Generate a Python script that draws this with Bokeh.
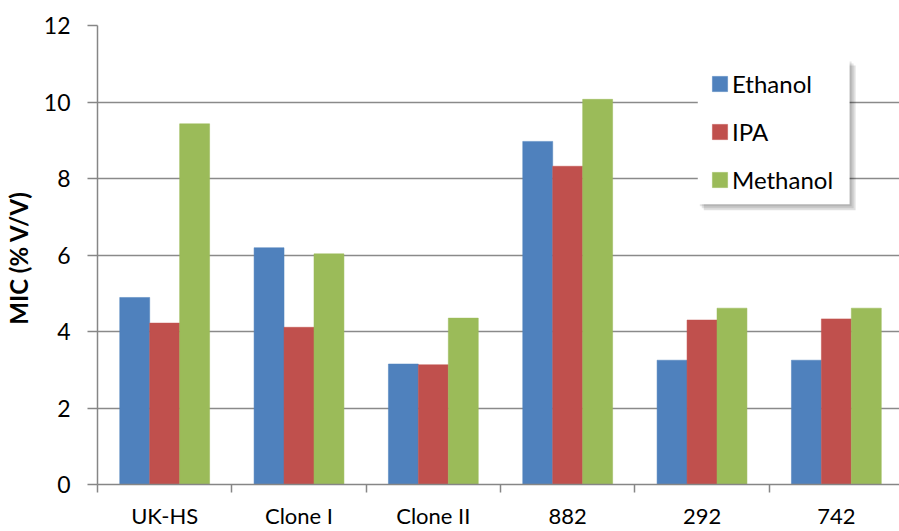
from bokeh.plotting import figure
from bokeh.models import (ColumnDataSource, FixedTicker, Range1d, Legend,
                          LegendItem, BoxAnnotation)
from bokeh.embed import file_html
from bokeh.resources import INLINE

# MIC values (% V/V) per strain and solvent
strains = ["UK-HS", "Clone I", "Clone II", "882", "292", "742"]
ethanol = [4.89, 6.19, 3.15, 8.97, 3.25, 3.25]
ipa = [4.22, 4.11, 3.13, 8.32, 4.30, 4.33]
methanol = [9.43, 6.03, 4.35, 10.07, 4.61, 4.61]
y_ticks = [0, 2, 4, 6, 8, 10, 12]

series = [("Ethanol", ethanol, "#4F81BD"),
          ("IPA", ipa, "#C0504D"),
          ("Methanol", methanol, "#9BBB59")]

FONT = "Lato"
AXIS_GREY = "#868686"

centers = [i + 0.5 for i in range(len(strains))]
bar_w = 0.223

p = figure(width=899, height=531, output_backend="svg", toolbar_location=None,
           x_range=Range1d(0, 5.97), y_range=Range1d(0, 12),
           min_border_left=96, min_border_right=0,
           min_border_top=25, min_border_bottom=46)
p.outline_line_color = None
p.background_fill_color = "white"
p.border_fill_color = "white"

# pixel helpers for decorations (frame spans x 96..899, y 25..484.6)
px_x = 134.5
px_y = 38.3
def dx(px):
    return (px - 96) / px_x
def dy(px):
    return (484.6 - px) / px_y

renderers = []
for k, (name, vals, color) in enumerate(series):
    off = (k - 1) * bar_w
    src = ColumnDataSource(dict(x=[c + off for c in centers], top=vals))
    r = p.vbar(x="x", top="top", bottom=0, width=bar_w, source=src,
               fill_color=color, line_color=color, line_width=0.5)
    renderers.append((name, r))

# x axis: labels at group centres, small tick marks between groups
xa = p.xaxis[0]
xa.ticker = FixedTicker(ticks=centers, minor_ticks=list(range(len(strains) + 1)))
xa.major_label_overrides = {c: s for c, s in zip(centers, strains)}
xa.major_tick_line_color = None
xa.major_tick_out = 0
xa.major_tick_in = 0
xa.minor_tick_out = 8
xa.minor_tick_in = 0
xa.minor_tick_line_color = AXIS_GREY
xa.minor_tick_line_width = 1.5
xa.axis_line_color = AXIS_GREY
xa.axis_line_width = 1.5
xa.major_label_standoff = 9
xa.major_label_text_font = FONT
xa.major_label_text_font_size = "22px"
xa.major_label_text_color = "black"

ya = p.yaxis[0]
ya.ticker = FixedTicker(ticks=y_ticks, minor_ticks=[])
ya.major_tick_out = 10
ya.major_tick_in = 0
ya.major_tick_line_color = AXIS_GREY
ya.major_tick_line_width = 1.5
ya.axis_line_color = AXIS_GREY
ya.axis_line_width = 1.5
ya.major_label_standoff = 17
ya.major_label_text_font = FONT
ya.major_label_text_font_size = "23px"
ya.major_label_text_color = "black"
ya.axis_label = "MIC  (% V/V)"
ya.axis_label_text_font = FONT
ya.axis_label_text_font_style = "bold"
ya.axis_label_text_font_size = "24px"
ya.axis_label_text_color = "black"
ya.axis_label_standoff = 8

p.xgrid.grid_line_color = None
p.ygrid.ticker = FixedTicker(ticks=y_ticks)
p.ygrid.grid_line_color = "#8a8a8a"
p.ygrid.grid_line_width = 1.5

# legend panel: drop shadow, then white box
for i, a in enumerate([0.10, 0.10, 0.12]):
    o = 2 + 2 * i
    p.add_layout(BoxAnnotation(left=dx(697 + o), right=dx(849 + o),
                               top=dy(59 + o), bottom=dy(204 + o),
                               fill_color="#000000", fill_alpha=a,
                               line_color=None))
p.add_layout(BoxAnnotation(left=dx(697), right=dx(849), top=dy(59), bottom=dy(204),
                           fill_color="white", fill_alpha=1.0, line_color=None))

legend = Legend(items=[LegendItem(label=n, renderers=[r]) for n, r in renderers],
                location=(613, 290))
legend.background_fill_alpha = 0.0
legend.border_line_color = None
legend.label_text_font = FONT
legend.label_text_font_size = "24px"
legend.label_text_color = "black"
legend.glyph_width = 19
legend.glyph_height = 19
legend.label_height = 19
legend.label_standoff = 3
legend.spacing = 19
legend.padding = 0
legend.margin = 0
p.add_layout(legend, "center")

open("out.html", "w").write(file_html(p, INLINE))
